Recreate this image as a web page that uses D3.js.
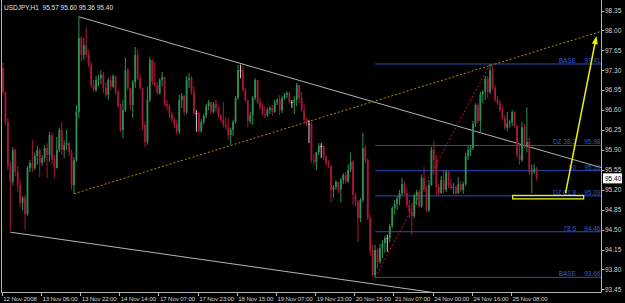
<!DOCTYPE html>
<html>
<head>
<meta charset="utf-8">
<script src="https://cdn.jsdelivr.net/npm/d3@7"></script>
<style>
body { margin: 0; background: #000; }
svg { display: block; }
text { font-family: "Liberation Sans", Arial, sans-serif; }
</style>
</head>
<body>
<svg id="chart" width="625" height="303"></svg>
<script>
// USDJPY H1, 12 Nov 2008 14:00 .. 25 Nov 2008 18:00
const title = "USDJPY,H1  95.57 95.60 95.36 95.40";

const opens = [
  97.34, 96.92, 96.39, 95.62, 95.34, 95.90, 95.51, 95.28, 94.97, 95.06,
  94.77, 95.58, 95.67, 95.58, 95.79, 95.90, 95.67, 95.76, 95.93, 95.81,
  96.16, 95.72, 95.58, 95.90, 96.25, 95.90, 95.99, 96.02, 95.86, 95.28,
  95.72, 96.57, 97.87, 97.57, 97.74, 97.57, 97.39, 97.04, 96.95, 97.13,
  97.16, 97.22, 96.99, 96.87, 97.13, 97.01, 97.20, 96.92, 96.67, 96.25,
  96.60, 97.30, 96.99, 96.69, 97.09, 97.57, 97.16, 96.99, 96.34, 96.04,
  96.78, 97.48, 97.09, 97.04, 96.90, 97.13, 97.18, 96.71, 96.67, 96.53,
  96.43, 96.36, 96.22, 96.78, 96.85, 96.57, 97.13, 97.16, 96.92, 96.55,
  96.55, 96.23, 96.39, 96.50, 96.67, 96.74, 96.57, 96.71, 96.64, 96.50,
  96.43, 96.34, 96.30, 96.16, 96.25, 96.39, 96.81, 97.30, 97.30, 96.95,
  96.78, 96.41, 96.51, 96.81, 97.13, 96.74, 96.65, 96.53, 96.51, 96.60,
  96.64, 96.57, 96.74, 96.78, 96.60, 96.81, 96.87, 96.90, 96.74, 96.74,
  96.78, 97.04, 96.81, 96.60, 96.43, 96.36, 96.36, 95.72, 95.69, 95.86,
  95.97, 95.97, 95.78, 95.67, 95.62, 95.20, 95.25, 95.34, 95.20, 95.37,
  95.46, 95.35, 95.55, 95.69, 95.11, 94.98, 94.70, 95.02, 95.93, 95.72,
  94.70, 94.14, 93.70, 94.14, 93.93, 94.18, 94.26, 94.35, 94.35, 94.56,
  94.88, 94.95, 95.04, 95.14, 95.30, 95.14, 94.93, 94.81, 94.74, 95.09,
  95.16, 94.91, 95.41, 95.20, 94.84, 95.28, 95.90, 95.72, 95.25, 95.14,
  95.37, 95.20, 95.51, 95.28, 95.23, 95.25, 95.14, 95.30, 95.20, 95.30,
  95.79, 95.90, 95.93, 96.36, 96.69, 96.41, 96.88, 96.92, 97.15, 96.92,
  97.30, 96.99, 96.78, 96.72, 96.60, 96.46, 96.29, 96.37, 96.39, 96.57,
  96.32, 95.81, 95.72, 96.30, 95.97, 96.04, 95.51, 95.52, 95.57
];
const highs = [
  97.43, 96.92, 96.46, 95.69, 95.95, 95.93, 95.62, 95.37, 95.09, 95.11,
  95.62, 95.72, 96.07, 95.85, 95.97, 95.93, 95.81, 95.99, 96.02, 96.22,
  96.20, 95.81, 96.13, 96.29, 96.39, 96.07, 96.25, 96.04, 95.90, 95.77,
  96.69, 98.24, 97.90, 97.87, 98.06, 97.66, 97.45, 97.13, 97.20, 97.22,
  97.30, 97.27, 97.09, 97.16, 97.20, 97.23, 97.20, 96.95, 96.71, 96.78,
  97.52, 97.34, 96.99, 97.13, 97.71, 97.66, 97.22, 96.99, 96.39, 97.01,
  97.53, 97.48, 97.45, 97.09, 97.16, 97.27, 97.18, 96.78, 96.71, 96.57,
  96.48, 96.43, 96.87, 96.90, 96.87, 97.20, 97.25, 97.20, 97.02, 96.60,
  96.57, 96.44, 96.53, 96.71, 96.78, 96.74, 96.74, 96.78, 96.67, 96.53,
  96.74, 96.48, 96.46, 96.29, 96.43, 96.85, 97.39, 97.40, 97.38, 96.99,
  96.78, 96.57, 96.85, 97.16, 97.13, 96.81, 96.72, 96.67, 96.64, 96.67,
  96.69, 96.78, 96.81, 96.87, 96.85, 96.90, 96.93, 96.93, 96.78, 96.85,
  97.08, 97.04, 96.92, 96.71, 96.46, 96.43, 96.39, 95.83, 95.86, 96.02,
  96.02, 95.99, 95.81, 95.72, 95.64, 95.28, 95.37, 95.34, 95.41, 95.49,
  95.51, 95.64, 95.85, 95.72, 95.14, 95.02, 95.06, 96.20, 95.99, 95.76,
  94.76, 94.23, 94.23, 94.18, 94.25, 94.32, 94.39, 94.41, 94.60, 94.91,
  95.02, 95.09, 95.20, 95.41, 95.35, 95.23, 95.02, 94.97, 95.13, 95.20,
  95.20, 95.46, 95.60, 95.27, 95.37, 95.95, 96.06, 95.81, 95.30, 95.44,
  95.55, 95.55, 95.53, 95.41, 95.32, 95.28, 95.42, 95.35, 95.34, 95.85,
  95.97, 95.99, 96.41, 96.72, 96.72, 96.92, 96.95, 97.20, 97.20, 97.41,
  97.37, 97.04, 96.85, 96.78, 96.67, 96.51, 96.57, 96.43, 96.60, 96.58,
  96.34, 96.02, 96.39, 96.36, 96.65, 96.11, 95.64, 95.65, 95.60
];
const lows = [
  96.87, 96.34, 95.55, 94.48, 95.28, 95.44, 95.16, 94.90, 94.84, 94.49,
  94.74, 95.51, 95.51, 95.55, 95.64, 95.42, 95.62, 95.69, 95.41, 95.69,
  95.65, 95.41, 95.58, 95.86, 95.81, 95.76, 95.90, 95.79, 95.20, 95.13,
  95.69, 96.46, 97.45, 97.48, 97.52, 97.34, 96.99, 96.92, 96.92, 97.02,
  97.06, 96.90, 96.83, 96.78, 96.95, 96.99, 96.87, 96.64, 96.22, 96.11,
  96.57, 96.95, 96.60, 96.46, 96.99, 97.13, 96.95, 96.25, 95.95, 95.99,
  96.74, 97.04, 97.01, 96.87, 96.87, 97.02, 96.67, 96.60, 96.46, 96.39,
  96.29, 96.16, 96.18, 96.64, 96.51, 96.53, 96.99, 96.88, 96.51, 96.22,
  96.20, 96.20, 96.35, 96.46, 96.60, 96.53, 96.55, 96.57, 96.46, 96.39,
  96.29, 96.25, 96.07, 95.99, 96.14, 96.36, 96.78, 97.16, 96.92, 96.74,
  96.30, 96.36, 96.34, 96.78, 96.71, 96.60, 96.50, 96.46, 96.48, 96.53,
  96.50, 96.55, 96.69, 96.51, 96.55, 96.78, 96.81, 96.71, 96.64, 96.53,
  96.67, 96.72, 96.57, 96.39, 96.32, 96.02, 95.67, 95.63, 95.55, 95.81,
  95.76, 95.72, 95.62, 95.58, 94.98, 95.06, 95.20, 95.14, 94.98, 95.30,
  95.32, 95.32, 95.51, 94.93, 94.91, 94.28, 94.63, 94.98, 95.67, 94.67,
  94.04, 93.68, 93.66, 93.82, 93.90, 94.00, 94.09, 94.11, 94.28, 94.53,
  94.76, 94.84, 94.93, 95.09, 95.11, 94.90, 94.70, 94.40, 94.70, 94.93,
  94.88, 94.88, 95.16, 94.81, 94.81, 95.27, 95.46, 95.11, 95.09, 95.13,
  95.14, 95.16, 95.23, 95.20, 95.13, 95.11, 95.13, 95.16, 95.13, 95.27,
  95.72, 95.79, 95.90, 96.30, 96.37, 96.22, 96.72, 96.78, 96.81, 96.88,
  96.95, 96.74, 96.69, 96.57, 96.43, 96.25, 96.23, 96.29, 96.32, 96.29,
  95.76, 95.64, 95.69, 95.93, 95.86, 95.46, 95.14, 95.48, 95.36
];
const closes = [
  96.92, 96.39, 95.62, 95.34, 95.90, 95.51, 95.28, 94.97, 95.06, 94.77,
  95.58, 95.67, 95.58, 95.79, 95.90, 95.67, 95.76, 95.93, 95.81, 96.16,
  95.72, 95.58, 95.90, 96.25, 95.90, 95.99, 96.02, 95.86, 95.28, 95.72,
  96.57, 97.87, 97.57, 97.74, 97.57, 97.39, 97.04, 96.95, 97.13, 97.16,
  97.22, 96.99, 96.87, 97.13, 97.01, 97.20, 96.92, 96.67, 96.25, 96.60,
  97.30, 96.99, 96.69, 97.09, 97.57, 97.16, 96.99, 96.34, 96.04, 96.78,
  97.48, 97.09, 97.04, 96.90, 97.13, 97.18, 96.71, 96.67, 96.53, 96.43,
  96.36, 96.22, 96.78, 96.85, 96.57, 97.13, 97.16, 96.92, 96.55, 96.55,
  96.23, 96.39, 96.50, 96.67, 96.74, 96.57, 96.71, 96.64, 96.50, 96.43,
  96.34, 96.30, 96.16, 96.25, 96.39, 96.81, 97.30, 97.30, 96.95, 96.78,
  96.41, 96.51, 96.81, 97.13, 96.74, 96.65, 96.53, 96.51, 96.60, 96.64,
  96.57, 96.74, 96.78, 96.60, 96.81, 96.87, 96.90, 96.74, 96.74, 96.78,
  97.04, 96.81, 96.60, 96.43, 96.36, 96.36, 95.72, 95.69, 95.86, 95.97,
  95.97, 95.78, 95.67, 95.62, 95.20, 95.25, 95.34, 95.20, 95.37, 95.46,
  95.35, 95.55, 95.69, 95.11, 94.98, 94.70, 95.02, 95.93, 95.72, 94.70,
  94.14, 93.70, 94.14, 93.93, 94.18, 94.26, 94.35, 94.35, 94.56, 94.88,
  94.95, 95.04, 95.14, 95.30, 95.14, 94.93, 94.81, 94.74, 95.09, 95.16,
  94.91, 95.41, 95.20, 94.84, 95.28, 95.90, 95.72, 95.25, 95.14, 95.37,
  95.20, 95.51, 95.28, 95.23, 95.25, 95.14, 95.30, 95.20, 95.30, 95.79,
  95.90, 95.93, 96.36, 96.69, 96.41, 96.88, 96.92, 97.15, 96.92, 97.30,
  96.99, 96.78, 96.72, 96.60, 96.46, 96.29, 96.37, 96.39, 96.57, 96.32,
  95.81, 95.72, 96.30, 95.97, 96.04, 95.51, 95.52, 95.57, 95.40
];

const priceTicks = [98.35, 98.00, 97.65, 97.30, 96.95, 96.60, 96.25, 95.90,
                    95.55, 95.20, 94.85, 94.50, 94.15, 93.80, 93.45];
// one label every 16 bars
const timeLabels = ["12 Nov 2008", "13 Nov 06:00", "13 Nov 22:00", "14 Nov 14:00",
  "17 Nov 07:00", "17 Nov 23:00", "18 Nov 15:00", "19 Nov 07:00", "19 Nov 23:00",
  "20 Nov 15:00", "21 Nov 07:00", "24 Nov 00:00", "24 Nov 16:00", "25 Nov 08:00"];

// drawn objects, as [bar, price]
const upperTrend = [[31, 98.24], [97, 97.42]];
const lowerTrend = [[3, 94.455], [152, 93.54]];
const dottedTrend = [[29, 95.13], [152, 96.76]];
const fibStart = [152, 93.66];
const fibEnd = [199, 97.41];
const fibLevels = [0, 0.382, 0.5, 0.618, 0.786, 1];
const fibNames = ["BASE", "DZ 38.2", "50", "DZ 61.8", "78.6", "BASE"];
const arrowFrom = [229.8, 95.14];
const arrowTo = [242.4, 97.90];
const zoneBox = [[208.2, 95.10], [237.2, 95.04]];

const svg = d3.select("#chart");
const right = 601.5, bottom = 292.5;

const x = d3.scaleLinear().domain([0, 245]).range([3, 3 + 245 * 2.448]);
const y = d3.scaleLinear().domain([93.40, 98.50]).range([292.2, 1.97]);

svg.append("rect").attr("width", 625).attr("height", 303).attr("fill", "#000");

svg.append("defs").append("clipPath").attr("id", "plot")
  .append("rect").attr("x", 1.5).attr("y", 0).attr("width", right - 1.5).attr("height", bottom);

const plot = svg.append("g").attr("clip-path", "url(#plot)");

// fibo levels
const fibRange = fibEnd[1] - fibStart[1];
const fibs = fibLevels.map((lv, k) => ({
  name: fibNames[k],
  price: fibEnd[1] - lv * fibRange
}));
plot.selectAll(".fib").data(fibs).join("line")
  .attr("x1", x(fibStart[0])).attr("x2", right)
  .attr("y1", d => y(d.price)).attr("y2", d => y(d.price))
  .attr("stroke", "#2a4cb8").attr("stroke-width", 1);

// trend lines, extended to the right like rays
function ray(p) {
  let xEnd = 250;
  let slope = (p[1][1] - p[0][1]) / (p[1][0] - p[0][0]);
  return [p[0], [xEnd, p[0][1] + slope * (xEnd - p[0][0])]];
}
const lineGen = d3.line().x(d => x(d[0])).y(d => y(d[1]));

plot.append("path").attr("d", lineGen(ray(upperTrend)))
  .attr("stroke", "#b4b4b4").attr("stroke-width", 1).attr("fill", "none");
plot.append("path").attr("d", lineGen(ray(lowerTrend)))
  .attr("stroke", "#b4b4b4").attr("stroke-width", 1).attr("fill", "none");
plot.append("path").attr("d", lineGen(ray(dottedTrend)))
  .attr("stroke", "#b8860b").attr("stroke-width", 1).attr("stroke-dasharray", "2,2").attr("fill", "none");
plot.append("path").attr("d", lineGen([fibStart, fibEnd]))
  .attr("stroke", "#c8102e").attr("stroke-width", 1).attr("stroke-dasharray", "2,2").attr("fill", "none");

// candles
const bars = opens.map((o, i) => ({ i: i, o: o, h: highs[i], l: lows[i], c: closes[i] }));
const colorOf = d => d.c > d.o ? "#2a9354" : (d.c < d.o ? "#ab1539" : "#d0d0d0");

plot.selectAll(".wick").data(bars).join("line")
  .attr("x1", d => x(d.i)).attr("x2", d => x(d.i))
  .attr("y1", d => y(d.h)).attr("y2", d => y(d.l))
  .attr("stroke", colorOf).attr("stroke-width", 1);
plot.selectAll(".body").data(bars).join("rect")
  .attr("x", d => x(d.i) - 0.9).attr("width", 1.8)
  .attr("y", d => y(Math.max(d.o, d.c)))
  .attr("height", d => Math.max(1, Math.abs(y(d.o) - y(d.c))))
  .attr("fill", colorOf);

// fibo texts
plot.selectAll(".fibname").data(fibs).join("text")
  .attr("x", 576).attr("y", d => y(d.price) - 1.2)
  .attr("text-anchor", "end").attr("font-size", 6.5).attr("fill", "#3558d0")
  .text(d => d.name);
plot.selectAll(".fibprice").data(fibs).join("text")
  .attr("x", 600.5).attr("y", d => y(d.price) - 1.2)
  .attr("text-anchor", "end").attr("font-size", 6.5).attr("fill", "#3558d0")
  .text(d => d.price.toFixed(2));

// yellow zone and arrow
plot.append("rect")
  .attr("x", x(zoneBox[0][0])).attr("y", y(zoneBox[0][1]))
  .attr("width", x(zoneBox[1][0]) - x(zoneBox[0][0]))
  .attr("height", y(zoneBox[1][1]) - y(zoneBox[0][1]))
  .attr("fill", "none").attr("stroke", "#f0f000").attr("stroke-width", 1.3);

const ax0 = x(arrowFrom[0]), ay0 = y(arrowFrom[1]);
const ax1 = x(arrowTo[0]), ay1 = y(arrowTo[1]);
const ang = Math.atan2(ay1 - ay0, ax1 - ax0);
plot.append("line")
  .attr("x1", ax0).attr("y1", ay0)
  .attr("x2", ax1 - 6 * Math.cos(ang)).attr("y2", ay1 - 6 * Math.sin(ang))
  .attr("stroke", "#f0f000").attr("stroke-width", 1.5);
const head = [[ax1, ay1],
  [ax1 - 8 * Math.cos(ang) + 3 * Math.sin(ang), ay1 - 8 * Math.sin(ang) - 3 * Math.cos(ang)],
  [ax1 - 8 * Math.cos(ang) - 3 * Math.sin(ang), ay1 - 8 * Math.sin(ang) + 3 * Math.cos(ang)]];
plot.append("path").attr("d", "M" + head.join("L") + "Z").attr("fill", "#f0f000");

// frame
const frameColor = "#b4b4b4";
svg.append("line").attr("x1", 1.5).attr("x2", 1.5).attr("y1", 0).attr("y2", bottom).attr("stroke", frameColor);
svg.append("line").attr("x1", 1.5).attr("x2", right).attr("y1", bottom).attr("y2", bottom).attr("stroke", frameColor);
svg.append("line").attr("x1", right).attr("x2", right).attr("y1", 0).attr("y2", bottom).attr("stroke", frameColor);

// price axis
const pa = svg.append("g");
pa.selectAll("line").data(priceTicks).join("line")
  .attr("x1", right).attr("x2", right + 3)
  .attr("y1", d => Math.round(y(d)) + 0.5).attr("y2", d => Math.round(y(d)) + 0.5)
  .attr("stroke", frameColor);
pa.selectAll("text").data(priceTicks).join("text")
  .attr("x", 605).attr("y", d => y(d) + 2.3)
  .attr("font-size", 6.5).attr("fill", "#d0d0d0")
  .text(d => d.toFixed(2));

// current price marker
const last = closes[closes.length - 1];
svg.append("rect").attr("x", 603.5).attr("y", y(last) - 4.5).attr("width", 18).attr("height", 9)
  .attr("fill", "#fff").attr("stroke", "#fff");
svg.append("text").attr("x", 605).attr("y", y(last) + 2.3)
  .attr("font-size", 6.5).attr("fill", "#000").text(last.toFixed(2));

// time axis
const ta = svg.append("g");
const tIdx = timeLabels.map((t, k) => ({ t: t, i: k * 16 }));
ta.selectAll("line").data(tIdx).join("line")
  .attr("x1", d => Math.round(x(d.i) - 1.3) + 0.5).attr("x2", d => Math.round(x(d.i) - 1.3) + 0.5)
  .attr("y1", bottom).attr("y2", bottom + 3.5)
  .attr("stroke", frameColor);
ta.selectAll("text").data(tIdx).join("text")
  .attr("x", d => x(d.i) + 0.3).attr("y", 300.5)
  .attr("font-size", 6.2).attr("letter-spacing", -0.15).attr("fill", "#d0d0d0")
  .text(d => d.t);

// title
svg.append("text").attr("x", 4).attr("y", 9.5)
  .attr("font-size", 6.5).attr("fill", "#e0e0e0")
  .style("white-space", "pre")
  .text(title);
</script>
</body>
</html>
